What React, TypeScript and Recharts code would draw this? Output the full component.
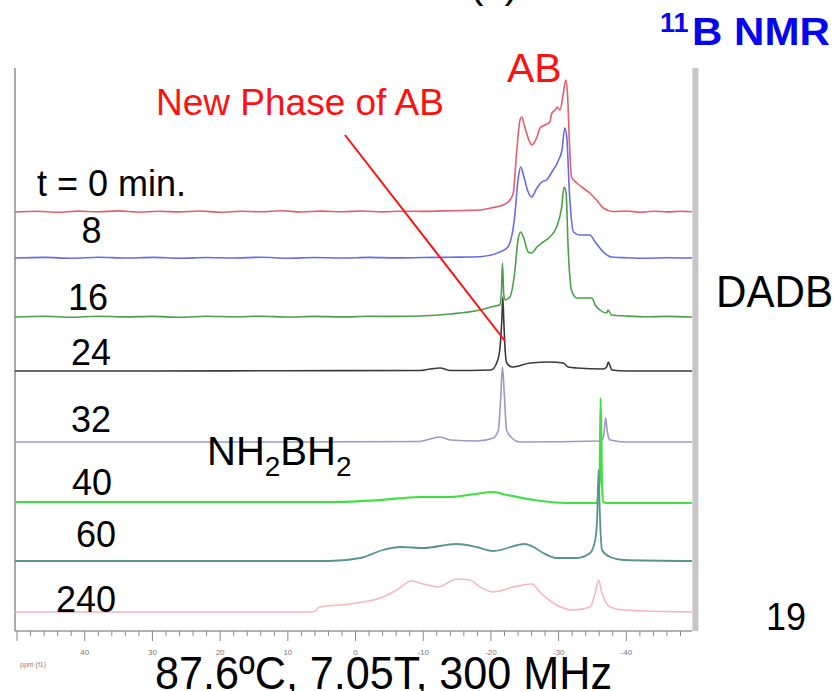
import React from 'react';
import { ComposedChart, Line, XAxis, YAxis, ReferenceLine } from 'recharts';

// ---------- data ----------
const spectrumLabels = ['t = 0 min.', '8', '16', '24', '32', '40', '60', '240'];
// vertical stacking offset of each spectrum (y-axis units)
const stackOffsets = [419, 373, 314, 260, 189, 129, 70, 19];
const spectrumColors = ['#e0606e', '#6a6ae6', '#4aa04a', '#3a3a3a', '#9a9ac4', '#3fe03f', '#5b948c', '#f2b8c2'];
const spectrumWidths = [1.6, 1.6, 1.6, 1.6, 1.6, 2.2, 1.8, 1.6];

const ppmTicks = [50, 48, 46, 44, 42, 40, 38, 36, 34, 32, 30, 28, 26, 24, 22, 20, 18, 16, 14, 12, 10, 8, 6, 4, 2, 0,
  -2, -4, -6, -8, -10, -12, -14, -16, -18, -20, -22, -24, -26, -28, -30, -32, -34, -36, -38, -40, -42, -44, -46, -48];

// [ppm, intensity]
const spec0: [number, number][] = [
  [50.3, 0], [47, 0.8], [44, -0.3], [41, 0.9], [38, 0.2], [35, 1.1], [32, -0.2], [29, 0.7], [26, 0.1], [23, 1.0],
  [20, -0.3], [17, 0.8], [14, 0.2], [11, 1.2], [8, 0], [5, 0.9], [2, 0.2], [-1, 1.0], [-4, 0.1], [-7, 0.8],
  [-10, 0.6], [-13, 1.1], [-16, 1.5], [-18.4, 2], [-20, 4], [-21.8, 7], [-22.8, 12], [-23.3, 19], [-23.8, 60],
  [-24.3, 92], [-24.55, 95], [-25.0, 85], [-25.8, 69], [-26.0, 67], [-26.8, 75], [-27.25, 84], [-28.0, 87],
  [-28.7, 90], [-29.0, 99], [-29.5, 102], [-29.8, 105], [-30.2, 102], [-30.7, 119], [-31.05, 132], [-31.3, 119],
  [-31.6, 69], [-31.9, 35], [-32.7, 29], [-33.6, 24], [-34.6, 19], [-35.6, 12], [-36.6, 4], [-38.0, 0.5],
  [-40, 1.0], [-42, -0.2], [-44, 0.8], [-46, 0.1], [-48, 0.7], [-49.7, 0.2],
];
const spec8: [number, number][] = [
  [50.3, 0], [46, 0.6], [42, -0.3], [38, 0.7], [34, 0], [30, 0.6], [26, -0.2], [22, 0.5], [18, 0], [14, 0.7],
  [10, -0.2], [6, 0.5], [2, 0], [-2, 0.6], [-6, 0.1], [-10, 0.5], [-14, 0.8], [-18.4, 1.3], [-21.3, 6],
  [-22.5, 11], [-23.5, 41], [-24.0, 78], [-24.4, 91], [-24.8, 83], [-25.5, 66], [-26.0, 61], [-26.8, 70],
  [-27.5, 76], [-28.2, 78], [-29.0, 86], [-30.0, 98], [-30.5, 108], [-30.9, 130], [-31.2, 121], [-31.6, 65],
  [-32.2, 26], [-33.15, 23], [-34.6, 23], [-35.4, 16], [-36.6, 6], [-37.8, 1], [-40, 0.3], [-43, -0.2],
  [-46, 0.3], [-49.7, 0],
];
const spec16: [number, number][] = [
  [50.3, 0], [46, 0.7], [42, -0.2], [38, 0.8], [34, 0.1], [30, 0.6], [26, -0.3], [22, 0.7], [18, 0.2], [14, 0.8],
  [10, 0], [6, 0.6], [2, 0.1], [-2, 0.7], [-6, 0.6], [-9.5, 1], [-14, 3], [-18.4, 7], [-20.6, 11], [-21.3, 12],
  [-21.55, 25], [-21.7, 54], [-21.9, 22], [-22.1, 17], [-22.8, 20], [-23.5, 44], [-24.0, 77], [-24.4, 85],
  [-24.8, 80], [-25.5, 65], [-26.0, 64], [-26.8, 70], [-27.7, 75], [-28.7, 80], [-29.7, 90], [-30.45, 110],
  [-30.8, 130], [-31.1, 124], [-31.4, 70], [-31.9, 27], [-32.7, 19], [-34.15, 19], [-34.9, 19], [-35.4, 12],
  [-36.1, 7], [-37.1, 4], [-37.3, 7], [-37.8, 2], [-40, 1], [-43, 0.2], [-46, 0.6], [-49.7, 0],
];
const spec24: [number, number][] = [
  [50.3, 0], [30, 0], [10, 0.3], [-9.5, 0.5], [-11, 2], [-12.5, 3], [-14, 0.5], [-20, 1], [-20.85, 8],
  [-21.3, 21], [-21.6, 50], [-21.75, 74], [-21.9, 50], [-22.1, 21], [-22.35, 8], [-23.1, 4], [-25.8, 8],
  [-28.7, 9], [-30.7, 8], [-31.4, 4], [-32.7, 3], [-36.6, 2], [-37.1, 4], [-37.35, 9], [-37.6, 5], [-37.85, 1],
  [-40, 0], [-49.7, 0],
];
const spec32: [number, number][] = [
  [50.3, 0], [20, 0], [-9.5, 0.5], [-11, 3], [-12.5, 5], [-14, 2], [-18, 1], [-20.35, 4], [-21.1, 12],
  [-21.45, 45], [-21.7, 75], [-22.0, 45], [-22.3, 12], [-23.1, 4], [-24.3, 0], [-36.3, 1], [-36.7, 8],
  [-36.95, 24], [-37.2, 10], [-37.6, 2], [-40, 0], [-49.7, 0],
];
const spec40: [number, number][] = [
  [50.3, 0], [3.8, 0], [-3.6, 2], [-9.5, 5], [-14.0, 5], [-17.65, 8], [-20.35, 10], [-22.35, 7], [-26.3, 2],
  [-31.2, -1], [-35.6, -1], [-36.05, 20], [-36.2, 104], [-36.4, 20], [-36.6, 0], [-37.1, -1], [-49.7, -1],
];
const spec60: [number, number][] = [
  [50.3, 0], [3.8, 0], [-0.7, 3], [-4.05, 11], [-6.6, 14], [-10.0, 13], [-14.9, 17], [-17.9, 14], [-20.35, 10],
  [-25.0, 17], [-26.3, 14], [-27.7, 8], [-29.7, 3], [-32.7, 3], [-34.65, 8], [-35.4, 21], [-35.7, 45],
  [-35.9, 91], [-36.1, 45], [-36.4, 11], [-37.6, 4], [-39.6, 1], [-49.7, 0],
];
const spec240: [number, number][] = [
  [50.3, 0], [6.7, 0], [5.85, 1], [5.55, 4], [5.25, 5], [0.8, 8], [-4.05, 15], [-6.1, 22], [-8.3, 31],
  [-10.0, 28], [-12.2, 25], [-14.9, 33], [-16.9, 32], [-18.4, 25], [-20.35, 20], [-23.3, 25], [-26.0, 28],
  [-27.25, 20], [-29.2, 9], [-32.2, 2], [-34.65, 5], [-35.4, 19], [-35.9, 32], [-36.4, 19], [-37.6, 5],
  [-39.6, 2], [-49.7, 0],
];

const spectra = [spec0, spec8, spec16, spec24, spec32, spec40, spec60, spec240];

const series = spectra.map((s, i) => s.map(([p, v]) => ({ ppm: p, v: v + stackOffsets[i] })));

// ---------- components ----------
const FONT = '"Liberation Sans", Arial, Helvetica, sans-serif';

const PpmTick = (props: any) => {
  const { x, y, payload } = props;
  const v = payload.value as number;
  const major = v % 10 === 0;
  const showLabel = major && Math.abs(v) <= 40;
  return (
    <g>
      <line x1={x} x2={x} y1={y} y2={y + (major ? 10 : 5)} stroke="#8a8a8a" strokeWidth={1} />
      {showLabel && (
        <text x={x} y={y + 24} textAnchor="middle" fontSize={8} fill="#777" fontFamily={FONT}>
          {v}
        </text>
      )}
    </g>
  );
};

const labelPos = [
  { x: 37, y: 196 },
  { x: 81.5, y: 243 },
  { x: 68, y: 310 },
  { x: 71, y: 365 },
  { x: 71, y: 432 },
  { x: 72, y: 495 },
  { x: 76, y: 547 },
  { x: 56, y: 612 },
];

export default function App() {
  return (
    <div style={{ position: 'absolute', left: 0, top: 0, width: 835, height: 691, background: '#fff' }}>
      <ComposedChart
        width={835}
        height={691}
        margin={{ top: 68, right: 143, bottom: 30, left: 15 }}
      >
        <XAxis
          type="number"
          dataKey="ppm"
          domain={[-49.7, 50.3]}
          reversed
          allowDataOverflow
          ticks={ppmTicks}
          interval={0}
          tick={<PpmTick />}
          tickSize={0}
          tickMargin={0}
          tickLine={false}
          axisLine={{ stroke: '#999', strokeWidth: 1.5 }}
          height={30}
        />
        <YAxis type="number" domain={[0, 563]} hide allowDataOverflow />
        <ReferenceLine x={50.3} stroke="#aaa" strokeWidth={2} ifOverflow="visible" />
        <ReferenceLine x={-50.2} stroke="#c6c6c6" strokeWidth={6} ifOverflow="visible" />
        {series.map((d, i) => (
          <Line
            key={i}
            data={d}
            dataKey="v"
            type="monotone"
            dot={false}
            stroke={spectrumColors[i]}
            strokeWidth={spectrumWidths[i]}
            isAnimationActive={false}
          />
        ))}
      </ComposedChart>
      <svg
        width={835}
        height={691}
        style={{ position: 'absolute', left: 0, top: 0, pointerEvents: 'none' }}
        fontFamily={FONT}
      >
        <text x={494} y={-3} textAnchor="middle" fontSize={42} fill="#000">(c)</text>
        <text x={660} y={32} fontSize={27} fontWeight="bold" fill="#0505f0">11</text>
        <text x={692} y={45} fontSize={39} fontWeight="bold" fill="#0505f0" textLength={138} lengthAdjust="spacingAndGlyphs">B NMR</text>
        <text x={507} y={82} fontSize={41} fill="#ff1010">AB</text>
        <text x={156} y={115} fontSize={37} fill="#ff1010">New Phase of AB</text>
        <line x1={345} y1={135} x2={505} y2={341} stroke="#ff1010" strokeWidth={2} />
        {spectrumLabels.map((t, i) => (
          <text key={t} x={labelPos[i].x} y={labelPos[i].y} fontSize={36} fill="#000">{t}</text>
        ))}
        <text x={207} y={465} fontSize={40} fill="#000">
          NH<tspan fontSize={28} dy={11}>2</tspan><tspan dy={-11}>BH</tspan><tspan fontSize={28} dy={11}>2</tspan>
        </text>
        <text x={716} y={307} fontSize={45} fill="#000" textLength={117} lengthAdjust="spacingAndGlyphs">DADB</text>
        <text x={766} y={630} fontSize={39} fill="#000" textLength={40} lengthAdjust="spacingAndGlyphs">19</text>
        <text x={20} y={667} fontSize={7} fill="#888">ppm (f1)</text>
        <text x={155} y={689} fontSize={47} fill="#000" textLength={457} lengthAdjust="spacingAndGlyphs">87.6ºC, 7.05T, 300 MHz</text>
      </svg>
    </div>
  );
}
